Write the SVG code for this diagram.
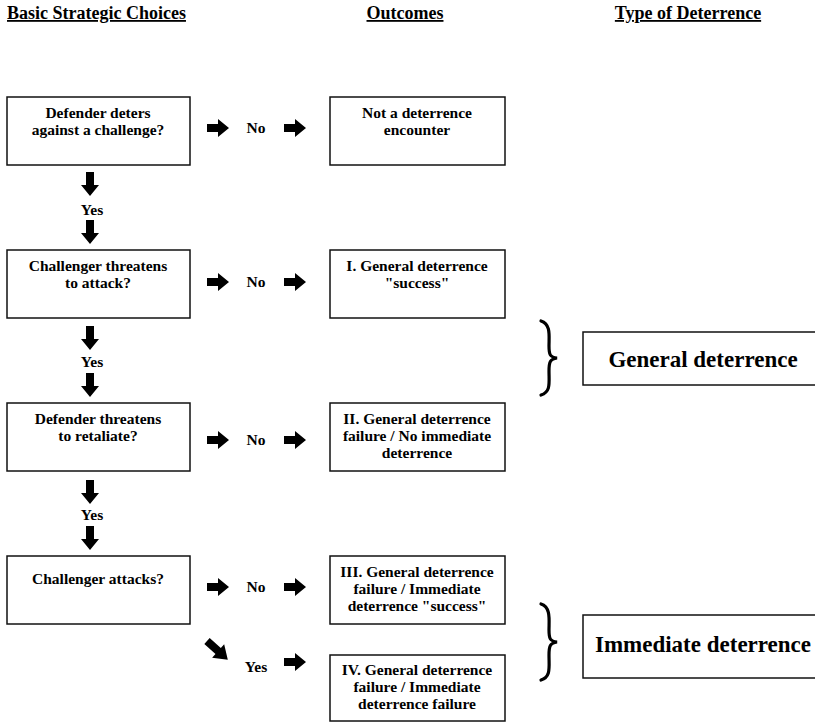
<svg xmlns="http://www.w3.org/2000/svg" width="815" height="723" viewBox="0 0 815 723">
<style>
text{font-family:"Liberation Serif","Times New Roman",serif;font-weight:bold;fill:#000}
.h{font-size:18px;text-decoration:underline}
.t{font-size:15.5px;text-anchor:middle}
.l{font-size:15.5px;text-anchor:middle}
.big{font-size:23px;text-anchor:middle}
rect{fill:#fff;stroke:#111;stroke-width:1.5}
.br{fill:none;stroke:#000;stroke-width:3.2;stroke-linecap:round}
</style>
<defs>
<path id="ar" d="M0,-4 H11 V-9 L22,0 L11,9 V4 H0 Z" fill="#000"/>
<path id="ad" d="M-4,0 V13 H-9 L0,24 L9,13 H4 V0 Z" fill="#000"/>
</defs>
<g id="headers">
<text class="h" x="7" y="19">Basic Strategic Choices</text>
<text class="h" x="405" y="19" text-anchor="middle">Outcomes</text>
<text class="h" x="688" y="19" text-anchor="middle">Type of Deterrence</text>
</g>
<g id="c1"><rect x="7" y="97" width="183" height="68"/><text class="t" x="98" y="118">Defender deters</text><text class="t" x="98" y="135">against a challenge?</text></g>
<g id="c2"><rect x="7" y="250" width="183" height="68"/><text class="t" x="98" y="271">Challenger threatens</text><text class="t" x="98" y="288">to attack?</text></g>
<g id="c3"><rect x="7" y="403" width="183" height="68"/><text class="t" x="98" y="424">Defender threatens</text><text class="t" x="98" y="441">to retaliate?</text></g>
<g id="c4"><rect x="7" y="556" width="183" height="68"/><text class="t" x="98" y="584">Challenger attacks?</text></g>
<g id="o0"><rect x="330" y="97" width="175" height="68"/><text class="t" x="417" y="118">Not a deterrence</text><text class="t" x="417" y="135">encounter</text></g>
<g id="o1"><rect x="330" y="250" width="175" height="68"/><text class="t" x="417" y="271">I. General deterrence</text><text class="t" x="417" y="288">"success"</text></g>
<g id="o2"><rect x="330" y="403" width="175" height="68"/><text class="t" x="417" y="424">II. General deterrence</text><text class="t" x="417" y="441">failure / No immediate</text><text class="t" x="417" y="458">deterrence</text></g>
<g id="o3"><rect x="330" y="556" width="175" height="68"/><text class="t" x="417" y="577">III. General deterrence</text><text class="t" x="417" y="594">failure / Immediate</text><text class="t" x="417" y="611">deterrence "success"</text></g>
<g id="o4"><rect x="330" y="655" width="175" height="66"/><text class="t" x="417" y="675">IV. General deterrence</text><text class="t" x="417" y="692">failure / Immediate</text><text class="t" x="417" y="709">deterrence failure</text></g>
<g id="tg"><rect x="583" y="332" width="240" height="53"/><text class="big" x="703" y="367">General deterrence</text></g>
<g id="ti"><rect x="583" y="615" width="240" height="63"/><text class="big" x="703" y="652">Immediate deterrence</text></g>
<g id="connectors">
<use href="#ar" x="207" y="128"/><text class="l" x="256" y="133">No</text><use href="#ar" x="284" y="128"/>
<use href="#ar" x="207" y="282"/><text class="l" x="256" y="287">No</text><use href="#ar" x="284" y="282"/>
<use href="#ar" x="207" y="440"/><text class="l" x="256" y="445">No</text><use href="#ar" x="284" y="440"/>
<use href="#ar" x="207" y="587"/><text class="l" x="256" y="592">No</text><use href="#ar" x="284" y="587"/>
<path d="M0,-4 H15 V-9 L28,0 L15,9 V4 H0 Z" fill="#000" transform="translate(207,641) rotate(42)"/>
<text class="l" x="256" y="672">Yes</text><use href="#ar" x="284" y="662"/>
<use href="#ad" x="90" y="172"/><text class="l" x="92" y="215">Yes</text><use href="#ad" x="90" y="220"/>
<use href="#ad" x="90" y="326"/><text class="l" x="92" y="367">Yes</text><use href="#ad" x="90" y="373"/>
<use href="#ad" x="90" y="480"/><text class="l" x="92" y="520">Yes</text><use href="#ad" x="90" y="526"/>
<path class="br" d="M541,321 C551,324 549,336 549,346 C549,355 550,357 557,358 C550,359 549,362 549,371 C549,383 551,392 541,395"/>
<path class="br" d="M541,604 C551,607 549,620 549,630 C549,639 550,641 557,642 C550,643 549,646 549,655 C549,668 551,677 541,680"/>
</g>
</svg>
